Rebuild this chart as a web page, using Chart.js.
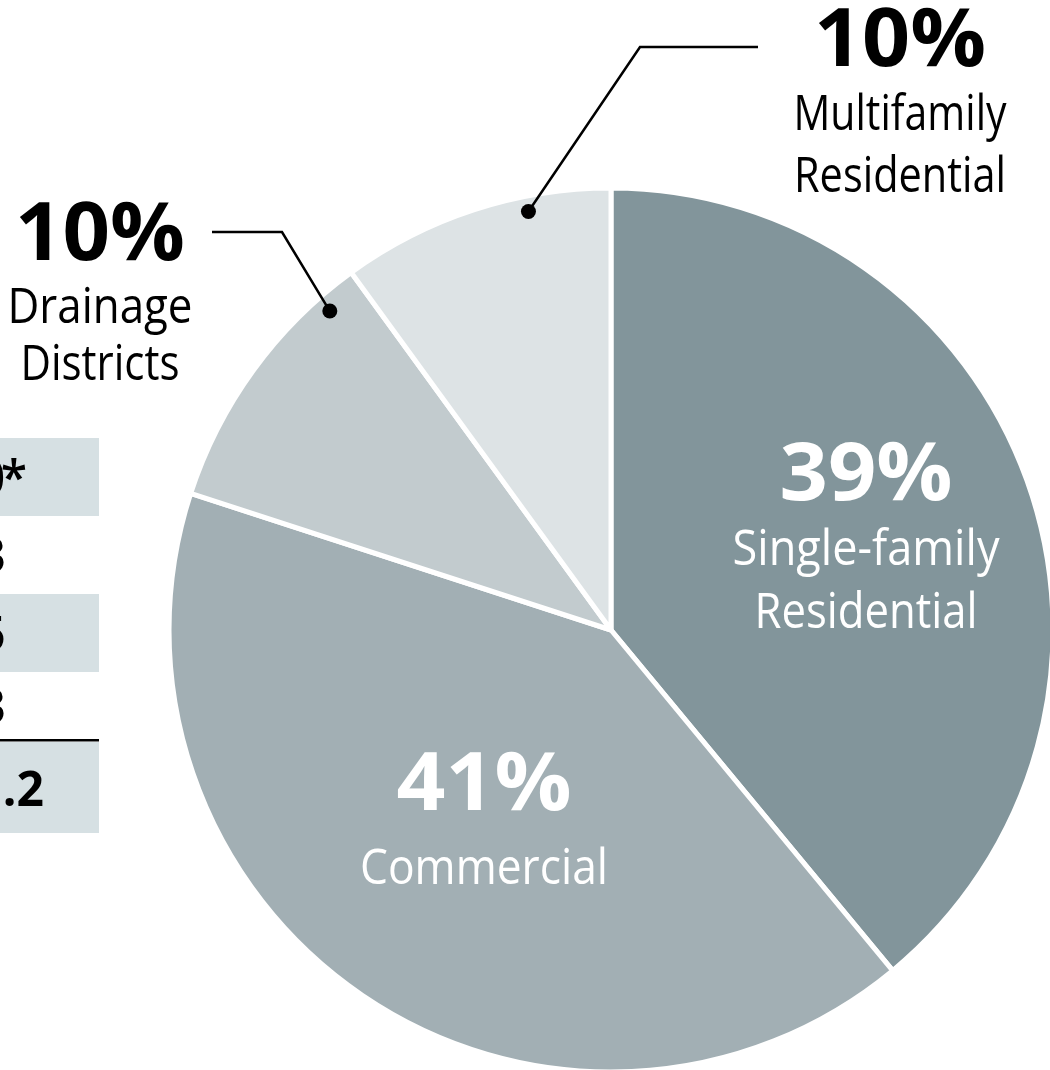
<!DOCTYPE html>
<html>
<head>
<meta charset="utf-8">
<script src="https://cdn.jsdelivr.net/npm/chart.js@4.4.1/dist/chart.umd.min.js"></script>
<style>
  html, body { margin: 0; padding: 0; background: #ffffff; }
  #wrap { width: 1050px; height: 1070px; position: relative; overflow: hidden; }
</style>
</head>
<body>
<div id="wrap"><canvas id="c" width="1050" height="1070"></canvas></div>
<script>
// ---- Data ----
const categories = ['Single-family Residential', 'Commercial', 'Drainage Districts', 'Multifamily Residential'];
const shares = [39, 41, 10, 10];
const pctLabels = ['39%', '41%', '10%', '10%'];
const nameLines = [['Single-family', 'Residential'], ['Commercial'], ['Drainage', 'Districts'], ['Multifamily', 'Residential']];
const tableValues = ['0*', '3', '5', '3', '.2'];

// ---- Styles / layout (not data) ----
const sliceColors = ['#82959b', '#a2afb4', '#c2cbce', '#dde3e5'];
const FONT = '"Open Sans", "DejaVu Sans", sans-serif';
const labelLayout = [
  { color: '#ffffff', cx: 866, base: [500, 565, 628], widths: [173, 267, 223] },
  { color: '#ffffff', cx: 484, base: [810, 884], widths: [175, 248] },
  { color: '#000000', cx: 100, base: [260, 323, 380], widths: [170, 185, 159] },
  { color: '#000000', cx: 900, base: [66, 130, 192], widths: [172, 213, 212] }
];
// leader lines: label-side end, elbow; dot placed on slice by fraction of span and radius
const leaders = {
  2: { from: [212, 232], elbow: [282, 232], frac: 0.85, rf: 0.962 },
  3: { from: [758, 47], elbow: [640, 47], frac: 0.69, rf: 0.965 }
};
const tableRows = [
  { top: 438, bottom: 516, shaded: true, weight: 600, right: 27, tighten: 4.5 },
  { top: 516, bottom: 594, shaded: false, weight: 600, right: 6, tighten: 0 },
  { top: 594, bottom: 672, shaded: true, weight: 600, right: 6, tighten: 0 },
  { top: 672, bottom: 740, shaded: false, weight: 600, right: 6, tighten: 0 },
  { top: 742, bottom: 833, shaded: true, weight: 700, right: 44, tighten: 0 }
];

function drawFitted(ctx, text, cx, baseline, font, targetW, color) {
  ctx.save();
  ctx.font = font;
  const w = ctx.measureText(text).width;
  const s = targetW / w;
  ctx.translate(cx, baseline);
  ctx.scale(s, 1);
  ctx.textAlign = 'center';
  ctx.textBaseline = 'alphabetic';
  ctx.fillStyle = color;
  ctx.fillText(text, 0, 0);
  ctx.restore();
}

const annotatePlugin = {
  id: 'annotate',
  afterDraw(chart) {
    const ctx = chart.ctx;
    const meta = chart.getDatasetMeta(0);

    // table fragment at the left
    ctx.save();
    tableRows.forEach((r, i) => {
      if (r.shaded) {
        ctx.fillStyle = '#d6e0e3';
        ctx.fillRect(0, r.top, 99, r.bottom - r.top);
      }
      ctx.font = r.weight + ' 48px ' + FONT;
      ctx.fillStyle = '#000';
      ctx.textAlign = 'right';
      ctx.textBaseline = 'alphabetic';
      const y = (r.top + r.bottom) / 2 + 18;
      const txt = tableValues[i];
      const last = txt.slice(-1);
      const rest = txt.slice(0, -1);
      ctx.fillText(last, r.right, y);
      if (rest) {
        const wl = ctx.measureText(last).width;
        ctx.fillText(rest, r.right - wl + r.tighten, y);
      }
    });
    ctx.fillStyle = '#000';
    ctx.fillRect(0, 739, 99, 2.5);
    ctx.restore();

    // leader lines
    Object.keys(leaders).forEach(k => {
      const L = leaders[k];
      const arc = meta.data[+k];
      const ang = arc.startAngle + L.frac * (arc.endAngle - arc.startAngle);
      const r = arc.outerRadius * L.rf;
      const dx = arc.x + Math.cos(ang) * r;
      const dy = arc.y + Math.sin(ang) * r;
      ctx.save();
      ctx.strokeStyle = '#000';
      ctx.lineWidth = 2.5;
      ctx.lineJoin = 'miter';
      ctx.beginPath();
      ctx.moveTo(L.from[0], L.from[1]);
      ctx.lineTo(L.elbow[0], L.elbow[1]);
      ctx.lineTo(dx, dy);
      ctx.stroke();
      ctx.fillStyle = '#000';
      ctx.beginPath();
      ctx.arc(dx, dy, 7.5, 0, Math.PI * 2);
      ctx.fill();
      ctx.restore();
    });

    // labels
    labelLayout.forEach((L, i) => {
      drawFitted(ctx, pctLabels[i], L.cx, L.base[0], 'bold 81px ' + FONT, L.widths[0], L.color);
      nameLines[i].forEach((t, j) => {
        drawFitted(ctx, t, L.cx, L.base[j + 1], '50px ' + FONT, L.widths[j + 1], L.color);
      });
    });
  }
};

new Chart(document.getElementById('c'), {
  type: 'pie',
  data: {
    labels: categories,
    datasets: [{
      data: shares,
      backgroundColor: sliceColors,
      borderColor: '#ffffff',
      borderWidth: 5
    }]
  },
  options: {
    responsive: false,
    animation: false,
    events: [],
    radius: 442,
    layout: { padding: { left: 172, right: 0, top: 190, bottom: 0 } },
    plugins: { legend: { display: false }, tooltip: { enabled: false }, title: { display: false } }
  },
  plugins: [annotatePlugin]
});
</script>
</body>
</html>
